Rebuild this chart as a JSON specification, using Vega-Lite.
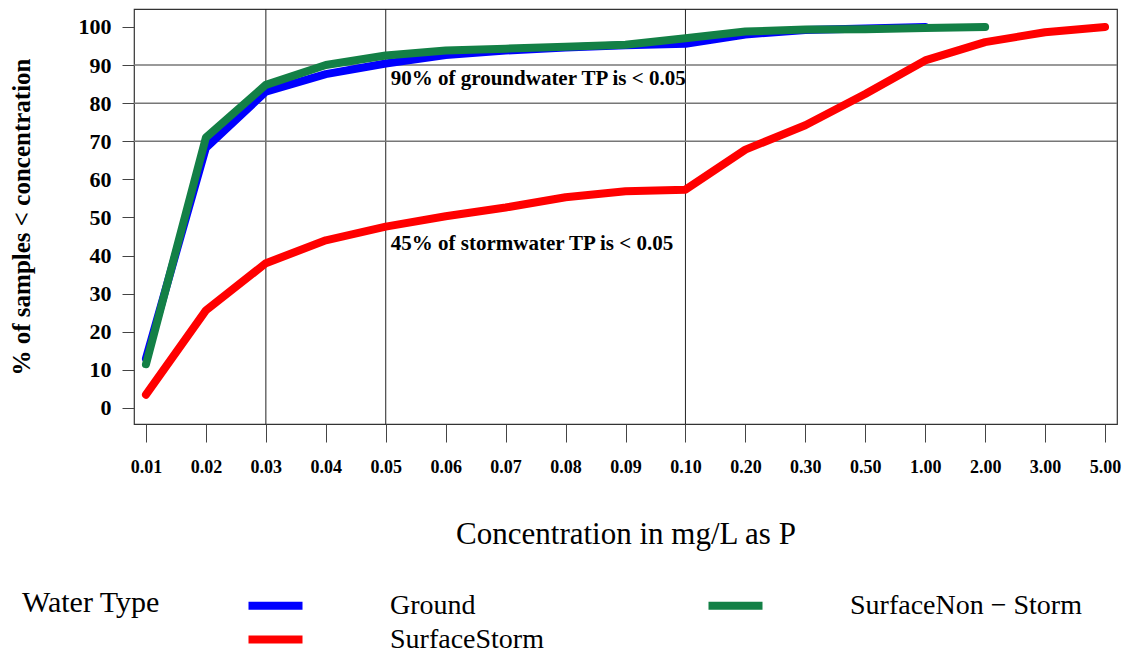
{
  "$schema": "https://vega.github.io/schema/vega-lite/v6.json",
  "width": 983,
  "height": 415,
  "autosize": {"type": "none"},
  "padding": {"left": 134, "top": 9, "right": 13, "bottom": 229},
  "background": "white",
  "config": {
    "font": "Liberation Serif",
    "view": {"stroke": "#333333", "strokeWidth": 1.2},
    "axis": {"labelFontWeight": "bold", "titleFontWeight": "normal", "labelColor": "black", "titleColor": "black", "tickColor": "#444444", "domain": false}
  },
  "datasets": {
    "cdf": [
      {"conc": "0.01", "type": "Ground", "pct": 13},
      {"conc": "0.02", "type": "Ground", "pct": 68.3},
      {"conc": "0.03", "type": "Ground", "pct": 83},
      {"conc": "0.04", "type": "Ground", "pct": 87.6},
      {"conc": "0.05", "type": "Ground", "pct": 90.4},
      {"conc": "0.06", "type": "Ground", "pct": 92.6},
      {"conc": "0.07", "type": "Ground", "pct": 93.8},
      {"conc": "0.08", "type": "Ground", "pct": 94.6},
      {"conc": "0.09", "type": "Ground", "pct": 95.2},
      {"conc": "0.10", "type": "Ground", "pct": 95.6},
      {"conc": "0.20", "type": "Ground", "pct": 98.0},
      {"conc": "0.30", "type": "Ground", "pct": 99.2},
      {"conc": "0.50", "type": "Ground", "pct": 99.6},
      {"conc": "1.00", "type": "Ground", "pct": 100},
      {"conc": "0.01", "type": "SurfaceNon-Storm", "pct": 11.5},
      {"conc": "0.02", "type": "SurfaceNon-Storm", "pct": 71},
      {"conc": "0.03", "type": "SurfaceNon-Storm", "pct": 84.8},
      {"conc": "0.04", "type": "SurfaceNon-Storm", "pct": 90},
      {"conc": "0.05", "type": "SurfaceNon-Storm", "pct": 92.5},
      {"conc": "0.06", "type": "SurfaceNon-Storm", "pct": 93.8},
      {"conc": "0.07", "type": "SurfaceNon-Storm", "pct": 94.3},
      {"conc": "0.08", "type": "SurfaceNon-Storm", "pct": 94.8},
      {"conc": "0.09", "type": "SurfaceNon-Storm", "pct": 95.3},
      {"conc": "0.10", "type": "SurfaceNon-Storm", "pct": 97.0},
      {"conc": "0.20", "type": "SurfaceNon-Storm", "pct": 98.8},
      {"conc": "0.30", "type": "SurfaceNon-Storm", "pct": 99.3},
      {"conc": "0.50", "type": "SurfaceNon-Storm", "pct": 99.4},
      {"conc": "1.00", "type": "SurfaceNon-Storm", "pct": 99.7},
      {"conc": "2.00", "type": "SurfaceNon-Storm", "pct": 100},
      {"conc": "0.01", "type": "SurfaceStorm", "pct": 3.5},
      {"conc": "0.02", "type": "SurfaceStorm", "pct": 25.6},
      {"conc": "0.03", "type": "SurfaceStorm", "pct": 38},
      {"conc": "0.04", "type": "SurfaceStorm", "pct": 44},
      {"conc": "0.05", "type": "SurfaceStorm", "pct": 47.6},
      {"conc": "0.06", "type": "SurfaceStorm", "pct": 50.3},
      {"conc": "0.07", "type": "SurfaceStorm", "pct": 52.6},
      {"conc": "0.08", "type": "SurfaceStorm", "pct": 55.3},
      {"conc": "0.09", "type": "SurfaceStorm", "pct": 56.9},
      {"conc": "0.10", "type": "SurfaceStorm", "pct": 57.3},
      {"conc": "0.20", "type": "SurfaceStorm", "pct": 67.8},
      {"conc": "0.30", "type": "SurfaceStorm", "pct": 74.2},
      {"conc": "0.50", "type": "SurfaceStorm", "pct": 82.4},
      {"conc": "1.00", "type": "SurfaceStorm", "pct": 91.2},
      {"conc": "2.00", "type": "SurfaceStorm", "pct": 96},
      {"conc": "3.00", "type": "SurfaceStorm", "pct": 98.6},
      {"conc": "5.00", "type": "SurfaceStorm", "pct": 100}
    ]
  },
  "encoding": {
    "x": {
      "field": "conc", "type": "ordinal",
      "scale": {"type": "point", "padding": 0.2, "domain": ["0.01","0.02","0.03","0.04","0.05","0.06","0.07","0.08","0.09","0.10","0.20","0.30","0.50","1.00","2.00","3.00","5.00"]},
      "axis": {"title": "Concentration in mg/L as P", "labelAngle": 0, "labelFontSize": 18, "tickSize": 18, "labelPadding": 16, "titleFontSize": 31, "titlePadding": 43, "grid": false}
    },
    "y": {
      "field": "pct", "type": "quantitative",
      "scale": {"domain": [-4.2, 104.7], "nice": false, "zero": false},
      "axis": {"title": "% of samples < concentration", "values": [0,10,20,30,40,50,60,70,80,90,100], "labelFontSize": 22, "tickSize": 12, "labelPadding": 11, "titleFontSize": 25, "titleFontWeight": "bold", "titlePadding": 44, "grid": false}
    }
  },
  "layer": [
    {
      "data": {"values": [{"conc": "0.03"}, {"conc": "0.05"}, {"conc": "0.10"}]},
      "mark": {"type": "rule", "color": "#222222", "strokeWidth": 1},
      "encoding": {"y": null}
    },
    {
      "data": {"values": [{"pct": 70}, {"pct": 80}, {"pct": 90}]},
      "mark": {"type": "rule", "color": "#777777", "strokeWidth": 1.5},
      "encoding": {"x": null}
    },
    {
      "data": {"name": "cdf"},
      "mark": {"type": "line", "strokeWidth": 8, "strokeCap": "round", "strokeJoin": "round"},
      "encoding": {
        "color": {
          "field": "type", "type": "nominal",
          "scale": {"domain": ["Ground", "SurfaceNon-Storm", "SurfaceStorm"], "range": ["#0000FF", "#138046", "#FF0000"]},
          "legend": {
            "title": "Water Type", "orient": "none", "legendX": -112, "legendY": 579, "direction": "horizontal",
            "columns": 2, "titleOrient": "left", "titleFontSize": 30, "titleFontWeight": "normal", "titleColor": "black", "titlePadding": 98,
            "titleAnchor": "start", "titleBaseline": "top",
            "symbolType": "M-2,0H2", "symbolSize": 729, "symbolStrokeWidth": 8,
            "labelFontSize": 28, "labelColor": "black", "labelOffset": 97, "labelLimit": 400,
            "columnPadding": 148, "rowPadding": -1,
            "labelExpr": "replace(datum.label, '-', ' − ')"
          }
        }
      }
    },
    {
      "data": {"values": [
        {"conc": "0.05", "pct": 86.4, "note": "90% of groundwater TP is  <  0.05"},
        {"conc": "0.05", "pct": 43, "note": "45% of stormwater TP is  <  0.05"}
      ]},
      "mark": {"type": "text", "align": "left", "baseline": "middle", "dx": 5, "fontSize": 21, "fontWeight": "bold", "color": "black"},
      "encoding": {"text": {"field": "note"}}
    }
  ]
}
